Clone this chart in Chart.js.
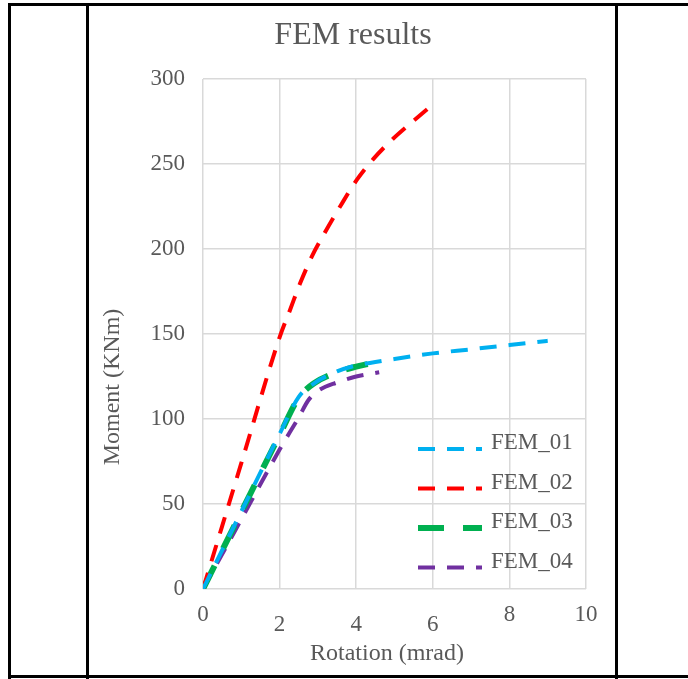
<!DOCTYPE html>
<html>
<head>
<meta charset="utf-8">
<script src="https://cdn.jsdelivr.net/npm/chart.js@4/dist/chart.umd.min.js"></script>
<style>
  body { margin: 0; background: #fff; }
  #page { position: relative; width: 688px; height: 679px; overflow: hidden; }
  .ln { position: absolute; background: #000; }
  #box { position: absolute; left: 90px; top: 7px; width: 525px; height: 668px; }
</style>
</head>
<body>
<div id="page">
  <!-- table borders around the chart cell -->
  <div class="ln" style="left:8px;top:3px;width:680px;height:3px"></div>
  <div class="ln" style="left:8px;top:675px;width:680px;height:3px"></div>
  <div class="ln" style="left:8px;top:3px;width:3px;height:676px"></div>
  <div class="ln" style="left:86px;top:3px;width:3px;height:676px"></div>
  <div class="ln" style="left:615px;top:3px;width:3px;height:676px"></div>
  <div id="box"><canvas id="femChart"></canvas></div>
</div>
<script>
// data: rotation (mrad) vs moment (KNm)
const fem01X = [0, 1, 2, 2.5, 2.9, 3.5, 4, 4.5, 5, 6, 7, 8, 9];
const fem01Y = [0, 45.6, 91.2, 113, 121, 128, 131.5, 133.5, 135.3, 138.6, 141, 143.5, 146];
const fem02X = [0, 0.5, 1, 2, 2.27, 2.53, 2.84, 3.19, 3.58, 4.01, 4.45, 4.97, 5.45, 5.95];
const fem02Y = [0, 37, 74, 148, 164, 179.5, 195.5, 210, 225, 240.5, 253, 265, 274.5, 284];
const fem03X = [0, 1, 2, 2.5, 2.9, 3.5, 4, 4.3];
const fem03Y = [0, 45.3, 90.6, 112.5, 121, 127.5, 130.8, 132.3];
const fem04X = [0, 1, 2, 2.5, 2.75, 3, 3.5, 4, 4.6];
const fem04Y = [0, 41, 82, 101, 111, 116.5, 121.5, 125, 127.5];
const xTicks = [0, 2, 4, 6, 8, 10];
const lowTicks = [2, 4, 6]; // these labels sit a bit lower in the picture

const txtColor = '#595959';
const serif = '"Liberation Serif", "Times New Roman", serif';

function pts(xs, ys) {
    return xs.map((x, i) => ({ x: x, y: ys[i] }));
}

const data = {
    datasets: [
        { label: 'FEM_01', data: pts(fem01X, fem01Y), borderColor: '#00B0F0', borderWidth: 4, borderDash: [17, 12] },
        { label: 'FEM_02', data: pts(fem02X, fem02Y), borderColor: '#FF0000', borderWidth: 4, borderDash: [17, 12] },
        { label: 'FEM_03', data: pts(fem03X, fem03Y), borderColor: '#00B050', borderWidth: 6, borderDash: [26, 19] },
        { label: 'FEM_04', data: pts(fem04X, fem04Y), borderColor: '#7030A0', borderWidth: 4, borderDash: [17, 12] }
    ]
};

// x tick labels, axis titles and legend drawn by hand
const extras = {
    id: 'extras',
    afterDraw(chart) {
        const c = chart.ctx;
        const xs = chart.scales.x;
        const area = chart.chartArea;
        c.save();
        c.fillStyle = txtColor;
        c.font = '23px ' + serif;
        c.textAlign = 'center';
        c.textBaseline = 'middle';
        xTicks.forEach(v => {
            const y = lowTicks.includes(v) ? area.bottom + 36 : area.bottom + 26;
            c.fillText(String(v), xs.getPixelForValue(v), y);
        });
        c.font = '24px ' + serif;
        c.fillText('Rotation (mrad)', 297, area.bottom + 65);

        c.save();
        c.translate(23, 380);
        c.rotate(-Math.PI / 2);
        c.fillText('Moment (KNm)', 0, 0);
        c.restore();

        // legend inside the plot
        c.font = '23px ' + serif;
        c.textAlign = 'left';
        chart.data.datasets.forEach((ds, i) => {
            const ly = 442 + i * 39.5;
            c.beginPath();
            c.strokeStyle = ds.borderColor;
            c.lineWidth = ds.borderWidth;
            c.setLineDash(ds.borderDash);
            c.moveTo(328, ly);
            c.lineTo(392, ly);
            c.stroke();
            c.fillText(ds.label, 401, ly - 6);
        });
        c.restore();
    }
};

const config = {
    type: 'line',
    data: data,
    options: {
        responsive: true,
        maintainAspectRatio: false,
        animation: false,
        layout: { padding: { left: 30, right: 29, top: 0, bottom: 0 } },
        elements: {
            point: { radius: 0 },
            line: { cubicInterpolationMode: 'monotone', fill: false }
        },
        scales: {
            x: {
                type: 'linear',
                min: 0,
                max: 10,
                ticks: { display: false, stepSize: 2 },
                grid: { color: '#d9d9d9', lineWidth: 1.5, drawTicks: false },
                border: { display: false },
                afterFit(scale) { scale.height = 86; }
            },
            y: {
                min: 0,
                max: 300,
                ticks: { stepSize: 50, color: txtColor, font: { family: serif, size: 23 }, padding: 18 },
                grid: { color: '#d9d9d9', lineWidth: 1.5, drawTicks: false },
                border: { display: false },
                afterFit(scale) { scale.width = 83; }
            }
        },
        plugins: {
            legend: { display: false },
            tooltip: { enabled: false },
            title: {
                display: true,
                text: 'FEM results',
                color: txtColor,
                font: { family: serif, size: 32, weight: 'normal', lineHeight: 1 },
                padding: { top: 13, bottom: 27 }
            }
        }
    },
    plugins: [extras]
};

const femChart = new Chart(document.getElementById('femChart').getContext('2d'), config);
</script>
</body>
</html>
